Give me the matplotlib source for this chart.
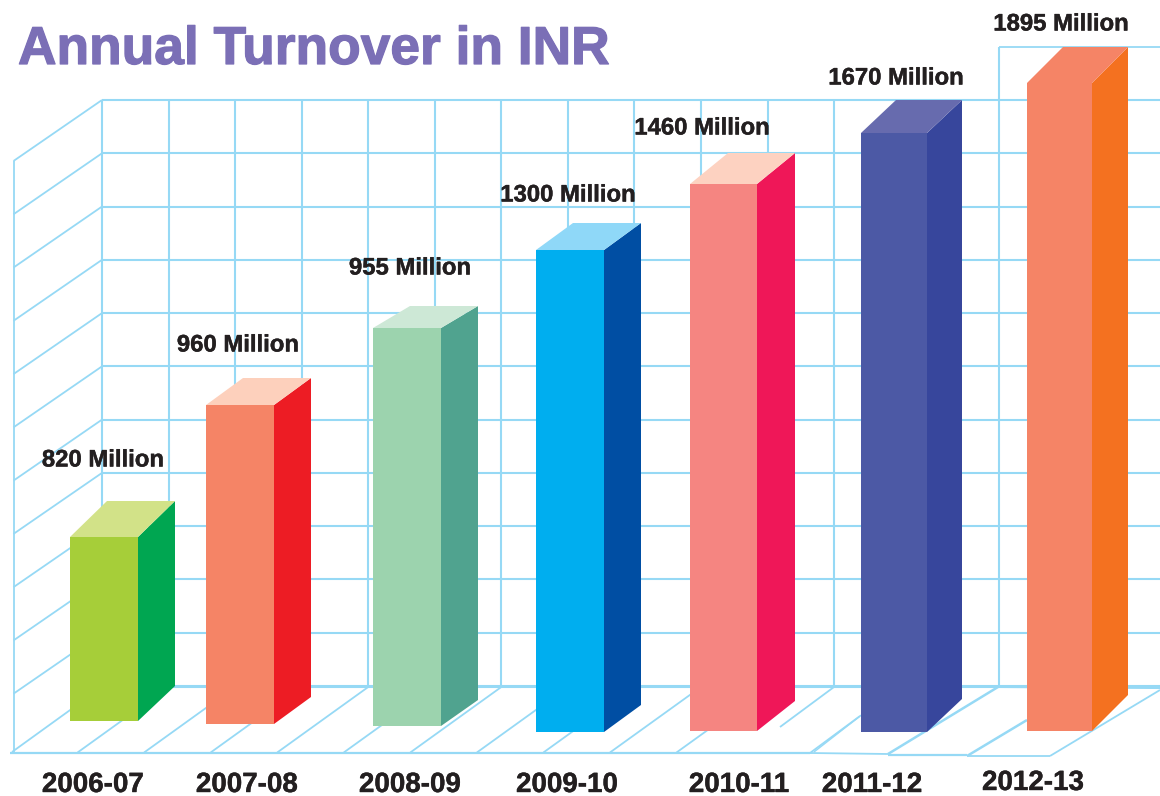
import matplotlib
matplotlib.use("Agg")
import matplotlib.pyplot as plt
from matplotlib.patches import Polygon
import matplotlib.patheffects as pe

plt.rcParams['font.family'] = ['Liberation Sans', 'DejaVu Sans']

# ---- data ----
categories = ["2006-07", "2007-08", "2008-09", "2009-10", "2010-11", "2011-12", "2012-13"]
turnover_million = [820, 960, 955, 1300, 1460, 1670, 1895]
# drawn bar heights as they appear (the artwork is not to scale with the labels)
drawn_height = [184, 319, 398, 482, 547, 599, 648]

# ---- layout ----
bar_base = [721, 724, 726, 732, 731, 732, 731]
bar_left = [70, 206, 373, 536, 690, 861, 1027]
bar_width = [68, 68, 68, 68, 67, 66, 65]
depth_x = [37, 37, 37, 37, 38, 35, 36]
depth_y = [36, 27, 22, 27, 31, 33, 36]
base_depth_y = [35, 27, 26, 27, 30, 33, 36]
front_colors = ["#a6ce39", "#f58466", "#9cd3ae", "#00aeef", "#f58581", "#4c59a5", "#f58466"]
side_colors = ["#00a651", "#ed1c24", "#50a38f", "#004ea3", "#ef1758", "#37469c", "#f47120"]
top_colors = ["#d2e288", "#fdd0bc", "#cde8d6", "#8fd8f8", "#fdd2c1", "#676bae", "#f58466"]
value_label_x = [103, 238, 410, 568, 702, 896, 1061]
value_label_y = [460, 345, 268, 195, 128, 78, 24]
cat_label_x = [93, 247, 410, 567, 739, 872, 1033]
cat_label_y = [785, 785, 785, 785, 785, 785, 783]

GRID = "#96d9f5"
TEXT = "#231f20"
TITLE = "#7b6fb6"

fig = plt.figure(figsize=(11.6, 7.96), dpi=100, facecolor="white")
ax = fig.add_axes([0, 0, 1, 1])
ax.set_xlim(0, 1160)
ax.set_ylim(796, 0)
ax.axis("off")


def line(xs, ys, lw=1.4):
    ax.plot(xs, ys, color=GRID, lw=lw, solid_capstyle="butt", zorder=1)


# back wall
row_y = [100 + 53.27 * k for k in range(12)]
for y in row_y:
    line([102, 1160], [y, y], 1.5)
for k in range(12):
    x = 102 + 66.55 * k
    line([x, x], [100, 687], 1.5)
line([999, 999], [47, 687], 1.5)
line([999, 1160], [47, 47], 1.3)

# left wall
line([13.5, 13.5], [161, 752], 1.3)
for y in row_y[:-1]:
    line([102, 13.5], [y, y + 61], 1.3)
line([102, 12], [687, 752], 1.3)

# floor
line([10, 810], [752.5, 752.5], 1.6)
line([810, 888], [753, 754], 1.3)
line([888, 967], [755, 755], 1.6)
line([967, 1050], [756, 756], 1.3)
line([102, 998], [686.6, 686.6], 1.5)
line([998, 1160], [687, 688], 1.5)
for k in range(1, 11):
    x = 102 + 66.55 * k
    line([x, x - 91], [687, 752.5], 1.3)
line([834, 780], [687, 727], 1.3)
line([860, 810], [716, 753], 1.3)
line([864, 814], [713, 752], 1.0)
line([998, 888], [687, 754], 1.8)
line([1027, 967], [720, 756], 1.8)
line([1160, 1050], [690, 756], 1.3)

# bars
for i in range(len(categories)):
    x0 = bar_left[i]
    x1 = x0 + bar_width[i]
    base = bar_base[i]
    top = base - drawn_height[i]
    dx, dy, bdy = depth_x[i], depth_y[i], base_depth_y[i]
    ax.bar(x0, -drawn_height[i], width=bar_width[i], bottom=base, align="edge",
           color=front_colors[i], linewidth=0, zorder=3)
    ax.add_patch(Polygon([(x1, base), (x1 + dx, base - bdy), (x1 + dx, top - dy), (x1, top)],
                         closed=True, facecolor=side_colors[i], edgecolor="none", zorder=3))
    ax.add_patch(Polygon([(x0, top), (x0 + dx, top - dy), (x1 + dx, top - dy), (x1, top)],
                         closed=True, facecolor=top_colors[i], edgecolor="none", zorder=3))
    t1 = ax.text(value_label_x[i], value_label_y[i], f"{turnover_million[i]} Million",
                 ha="center", va="center", fontsize=17.2, fontweight="bold", color=TEXT, zorder=5)
    t2 = ax.text(cat_label_x[i], cat_label_y[i], categories[i],
                 ha="center", va="center", fontsize=20, fontweight="bold", color=TEXT, zorder=5)
    for t in (t1, t2):
        t.set_path_effects([pe.withStroke(linewidth=0.3, foreground=TEXT)])

title = ax.text(18, 50, "Annual Turnover in INR", ha="left", va="center",
                fontsize=38.4, fontweight="bold", color=TITLE, zorder=5)
title.set_path_effects([pe.withStroke(linewidth=0.9, foreground=TITLE)])

fig.savefig("out.png", dpi=100, facecolor="white")
